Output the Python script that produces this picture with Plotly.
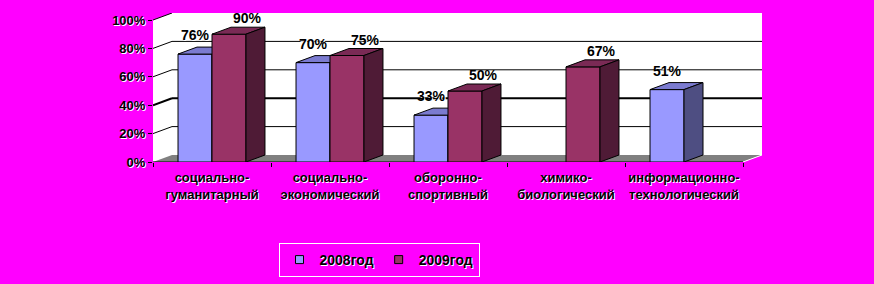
import plotly.graph_objects as go

# ---------------- data ----------------
categories = [
    "социально-<br>гуманитарный",
    "социально-<br>экономический",
    "оборонно-<br>спортивный",
    "химико-<br>биологический",
    "информационно-<br>технологический",
]
series_names = ["2008год", "2009год"]
values_2008 = [76, 70, 33, None, 51]
values_2009 = [90, 75, 50, 67, None]
y_ticks = [0, 20, 40, 60, 80, 100]
y_tick_labels = ["0%", "20%", "40%", "60%", "80%", "100%"]

# ---------------- styling / geometry ----------------
BG = "#FF00FF"
COL_FRONT = ["#9999FF", "#993366"]
COL_TOP = ["#7B7BD0", "#7A2A55"]
COL_SIDE = ["#4E4E82", "#4F1B36"]
BAR_W = 0.288          # bar width in category units
OFFSETS = [-BAR_W, 0]  # start of each series' bar relative to category center
DX = 0.161             # 3D depth (x, category units)
DY = 4.93              # 3D depth (y, percent units)
N = len(categories)
X_MIN, X_MAX = -0.5, N - 0.5 + DX
Y_MAX = 100 + DY
FONT = "Arial, 'Liberation Sans', sans-serif"
SHADOW = "1px 1px 0px #ffffff"


def faces(vals, off):
    fx, fy, tx, ty, sx, sy = [], [], [], [], [], []
    for i, v in enumerate(vals):
        if v is None:
            continue
        x0, x1 = i + off, i + off + BAR_W
        fx += [x0, x0, x1, x1, x0, None]
        fy += [0, v, v, 0, 0, None]
        tx += [x0, x1, x1 + DX, x0 + DX, x0, None]
        ty += [v, v, v + DY, v + DY, v, None]
        sx += [x1, x1, x1 + DX, x1 + DX, x1, None]
        sy += [0, v, v + DY, DY, 0, None]
    return (fx, fy), (tx, ty), (sx, sy)


fig = go.Figure()

all_vals = [values_2008, values_2009]
for s, vals in enumerate(all_vals):
    front, top, side = faces(vals, OFFSETS[s])
    for (xs, ys), col in ((front, COL_FRONT[s]), (top, COL_TOP[s]), (side, COL_SIDE[s])):
        fig.add_trace(go.Scatter(
            x=xs, y=ys, mode="lines", fill="toself", fillcolor=col,
            line=dict(color="black", width=1), hoverinfo="skip", showlegend=False,
        ))

# legend-only entries
for s, name in enumerate(series_names):
    fig.add_trace(go.Scatter(
        x=[None], y=[None], mode="markers", name=name,
        marker=dict(symbol="square", size=8, color=COL_FRONT[s],
                    line=dict(color="black", width=1)),
    ))

# data labels
annotations = []
label_dx = [0, DX]
label_dy = [19, 16]
for s, vals in enumerate(all_vals):
    for i, v in enumerate(vals):
        if v is None:
            continue
        annotations.append(dict(
            x=i + OFFSETS[s] + BAR_W / 2 + label_dx[s], y=v, yshift=label_dy[s],
            text=f"{v}%", showarrow=False, xanchor="center", yanchor="middle",
            font=dict(family=FONT, size=14, color="black", weight="bold", shadow=SHADOW),
        ))

# walls, floor and grid
shapes = []
wall_path = (f"M{X_MIN},0 L{X_MIN},100 L{X_MIN + DX},{Y_MAX} L{X_MAX},{Y_MAX} "
             f"L{X_MAX},{DY} L{N - 0.5},0 Z")
shapes.append(dict(type="path", path=wall_path, fillcolor="white",
                   line=dict(width=0), layer="below"))
floor_path = (f"M{X_MIN},0 L{N - 0.5},0 L{X_MAX},{DY} L{X_MIN + DX},{DY} Z")
shapes.append(dict(type="path", path=floor_path, fillcolor="#808080",
                   line=dict(width=0), layer="below"))
for v in y_ticks[1:]:
    w = 2 if v == 40 else 1
    shapes.append(dict(type="line", x0=X_MIN, y0=v, x1=X_MIN + DX, y1=v + DY,
                       line=dict(color="black", width=w), layer="below"))
    if v < 100:
        shapes.append(dict(type="line", x0=X_MIN + DX, y0=v + DY, x1=X_MAX, y1=v + DY,
                           line=dict(color="black", width=w), layer="below"))
shapes.append(dict(type="line", x0=X_MIN, y0=0, x1=N - 0.5, y1=0,
                   line=dict(color="black", width=1), layer="below"))
shapes.append(dict(type="line", x0=N - 0.5, y0=0, x1=X_MAX, y1=DY,
                   line=dict(color="white", width=1), layer="below"))

fig.update_layout(
    width=874, height=284,
    margin=dict(l=153, r=112, t=13, b=122, pad=0, autoexpand=False),
    paper_bgcolor=BG, plot_bgcolor=BG,
    font=dict(family=FONT, size=12, color="black", weight="bold", shadow=SHADOW),
    shapes=shapes, annotations=annotations,
    showlegend=True,
    legend=dict(
        orientation="h", x=(379 - 153) / 609, xanchor="center",
        y=(162 - 260) / 149, yanchor="middle",
        bgcolor=BG, bordercolor="white", borderwidth=1,
        font=dict(family=FONT, size=14, color="black", weight="bold", shadow=SHADOW),
        itemwidth=30, tracegroupgap=0,
    ),
    xaxis=dict(
        range=[X_MIN, X_MAX], tickmode="array",
        tickvals=list(range(N)), ticktext=categories, automargin=False,
        ticks="", showgrid=False, zeroline=False, showline=False,
        tickfont=dict(family=FONT, size=13, color="black", weight="bold", shadow=SHADOW),
        ticklabelstandoff=6,
        minor=dict(tickmode="array", tickvals=[i - 0.5 for i in range(N + 1)],
                   ticks="outside", ticklen=4, tickcolor="black", showgrid=False),
    ),
    yaxis=dict(
        range=[0, Y_MAX], tickmode="array", tickvals=y_ticks, ticktext=y_tick_labels,
        ticks="outside", ticklen=4, tickcolor="black", automargin=False,
        showgrid=False, zeroline=False, showline=False,
        tickfont=dict(family=FONT, size=13, color="black", weight="bold", shadow=SHADOW),
    ),
)

fig.write_html("out.html")
